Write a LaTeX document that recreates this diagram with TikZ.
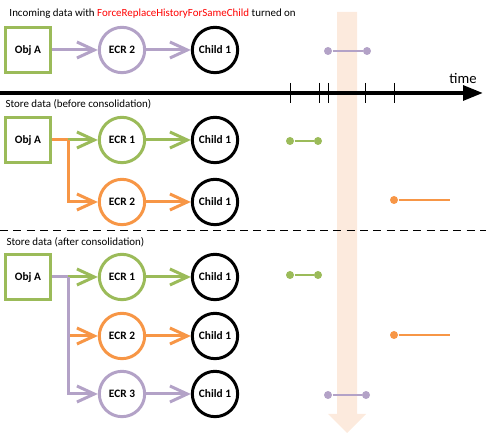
\documentclass[tikz,border=0pt]{standalone}
\usepackage{fontspec}
\setmainfont{Carlito}
\usetikzlibrary{arrows.meta}

\definecolor{objgreen}{RGB}{155,187,89}
\definecolor{ecrorange}{RGB}{247,150,70}
\definecolor{ecrpurple}{RGB}{179,162,199}
\definecolor{paleorange}{RGB}{252,234,221}

\tikzset{every picture/.style={line width=0.75pt}}
\tikzset{
  objbox/.style={draw=objgreen,line width=2.25pt,minimum size=34pt,inner sep=0pt,font=\fontsize{8.5}{10}\selectfont\bfseries},
  ecr/.style={circle,draw=#1,line width=2.25pt,minimum size=34pt,inner sep=0pt,font=\fontsize{8.5}{10}\selectfont\bfseries},
  child/.style={circle,draw=black,line width=2.25pt,minimum size=34pt,inner sep=0pt,font=\fontsize{8.5}{10}\selectfont\bfseries},
  link/.style={draw=#1,line width=2.25pt,-{Straight Barb[length=13pt,width=12pt,line width=2.25pt]}},
  branch/.style={draw=#1,line width=2.25pt},
  dot/.style={circle,fill=#1,minimum size=6pt,inner sep=0pt},
  span/.style={draw=#1,line width=1.5pt},
  heading/.style={anchor=west,inner sep=0.75pt,font=\fontsize{8.2}{10}\selectfont}
}

\begin{document}
\begin{tikzpicture}[x=0.75pt,y=0.75pt,yscale=-1,xscale=1]
    \useasboundingbox (0,0) rectangle (486,434);

    %Shape: Vertical arrow (background)
    \fill [paleorange] (337,12) -- (357,12) -- (357,414) -- (366,414) -- (347,433) -- (328,414) -- (337,414) -- cycle ;

    % Text Node
    \node [heading] (title1) at (8,14) {Incoming data with \textcolor{red}{ForceReplaceHistoryForSameChild} turned on};

    %Row: incoming
    \node [objbox] (objA0) at (28,50) {Obj A};
    \node [ecr=ecrpurple] (ecrB0) at (122,50) {ECR 2};
    \node [child] (childB0) at (215,50) {Child 1};
    \draw [link=ecrpurple] (objA0) -- (ecrB0) ;
    \draw [link=ecrpurple] (ecrB0) -- (childB0) ;

    %Timeline
    \coordinate (tstart) at (0,93);
    \coordinate (tend) at (483,93);
    \draw [line width=3pt,-{Triangle[length=15pt,width=11pt]}] (tstart) -- (tend) ;
    \foreach \t in {290,319,328,365,394}
      \draw (\t,83) -- (\t,103) ;
    % Text Node
    \node [anchor=south,inner sep=0.75pt,font=\fontsize{11}{13}\selectfont] (timelabel) at (463,85) {time};

    % Text Node
    \node [heading] (title2) at (4,104) {Store data (before consolidation)};

    %Row: before consolidation
    \node [objbox] (objA1) at (28,140) {Obj A};
    \node [ecr=objgreen] (ecrA1) at (122,140) {ECR 1};
    \node [child] (childA1) at (215,140) {Child 1};
    \node [ecr=ecrorange] (ecrB1) at (122,202) {ECR 2};
    \node [child] (childB1) at (215,202) {Child 1};
    \coordinate (fork1) at (68,140);
    \draw [link=objgreen] (objA1) -- (ecrA1) ;
    \draw [link=objgreen] (ecrA1) -- (childA1) ;
    \draw [branch=ecrorange] (objA1.east) -- (fork1) ;
    \draw [link=ecrorange] (fork1) |- (ecrB1) ;
    \draw [link=ecrorange] (ecrB1) -- (childB1) ;

    %Dashed separator
    \draw [dash pattern=on 6pt off 4pt] (0,231) -- (486,231) ;

    % Text Node
    \node [heading] (title3) at (5,242) {Store data (after consolidation)};

    %Row: after consolidation
    \node [objbox] (objA2) at (28,277) {Obj A};
    \node [ecr=objgreen] (ecrA2) at (122,277) {ECR 1};
    \node [child] (childA2) at (215,277) {Child 1};
    \node [ecr=ecrorange] (ecrB2) at (122,336) {ECR 2};
    \node [child] (childB2) at (215,336) {Child 1};
    \node [ecr=ecrpurple] (ecrC2) at (122,394) {ECR 3};
    \node [child] (childC2) at (215,394) {Child 1};
    \coordinate (fork2) at (68,277);
    \coordinate (fork3) at (68,336);
    \draw [link=objgreen] (objA2) -- (ecrA2) ;
    \draw [link=objgreen] (ecrA2) -- (childA2) ;
    \draw [link=ecrorange] (fork3) -- (ecrB2) ;
    \draw [link=ecrorange] (ecrB2) -- (childB2) ;
    \draw [branch=ecrpurple] (objA2.east) -- (fork2) ;
    \draw [link=ecrpurple] (fork2) |- (ecrC2) ;
    \draw [link=ecrpurple] (ecrC2) -- (childC2) ;

    %Validity spans
    \node [dot=ecrpurple] (p0a) at (328,51) {};
    \node [dot=ecrpurple] (p0b) at (367,51) {};
    \draw [span=ecrpurple] (p0a) -- (p0b) ;
    \node [dot=objgreen] (g1a) at (290,141) {};
    \node [dot=objgreen] (g1b) at (318,141) {};
    \draw [span=objgreen] (g1a) -- (g1b) ;
    \node [dot=ecrorange] (o1a) at (394,200) {};
    \coordinate (o1b) at (450,200);
    \draw [span=ecrorange] (o1a) -- (o1b) ;
    \node [dot=objgreen] (g2a) at (290,275) {};
    \node [dot=objgreen] (g2b) at (318,275) {};
    \draw [span=objgreen] (g2a) -- (g2b) ;
    \node [dot=ecrorange] (o2a) at (394,335) {};
    \coordinate (o2b) at (450,335);
    \draw [span=ecrorange] (o2a) -- (o2b) ;
    \node [dot=ecrpurple] (p2a) at (328,395) {};
    \node [dot=ecrpurple] (p2b) at (366,395) {};
    \draw [span=ecrpurple] (p2a) -- (p2b) ;

\end{tikzpicture}
\end{document}
